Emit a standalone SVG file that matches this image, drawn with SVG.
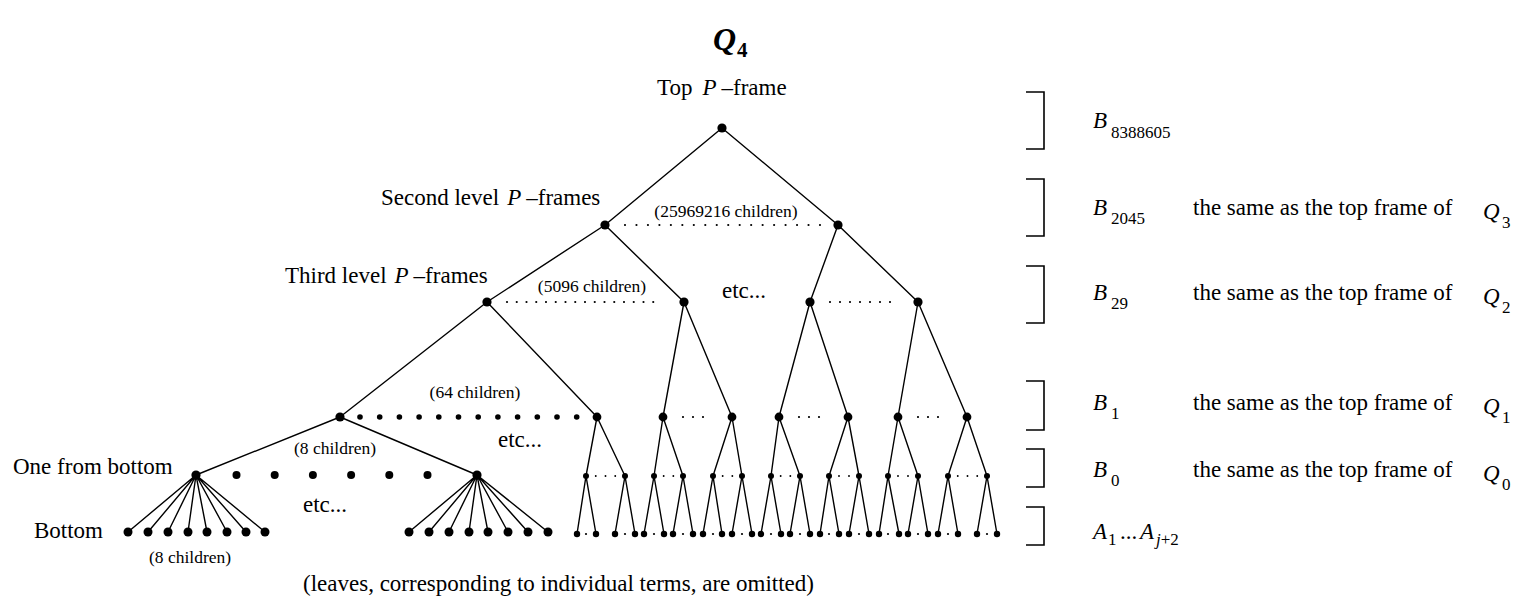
<svg xmlns="http://www.w3.org/2000/svg" width="1519" height="599" viewBox="0 0 1519 599">
  <style>
    text { font-family: "Liberation Serif", "Times New Roman", serif; fill: #000; }
    .lbl { font-size: 23px; }
    .sm { font-size: 17.5px; }
    .sub { font-size: 17px; }
    .it { font-style: italic; }
    .edge { stroke: #000; stroke-width: 1.4; fill: none; }
    .dot { stroke: #000; stroke-width: 2.2; stroke-linecap: round; fill: none; }
    .dotf { stroke: #000; stroke-width: 1.9; stroke-linecap: round; fill: none; }
    .brk { stroke: #000; stroke-width: 1.6; fill: none; }
    .n { fill: #000; }
  </style>

  <!-- title -->
  <text x="713" y="50" font-size="32" font-weight="bold" font-style="italic">Q</text>
  <text x="737" y="57" font-size="21" font-weight="bold">4</text>

  <!-- level labels -->
  <text class="lbl" x="657" y="95">Top<tspan class="it" dx="10">P</tspan><tspan dx="5">–frame</tspan></text>
  <text class="lbl" x="381" y="205">Second level<tspan class="it" dx="8">P</tspan><tspan dx="5">–frames</tspan></text>
  <text class="lbl" x="285" y="283">Third level<tspan class="it" dx="8">P</tspan><tspan dx="5">–frames</tspan></text>
  <text class="lbl" x="13" y="474">One from bottom</text>
  <text class="lbl" x="34" y="538">Bottom</text>

  <!-- child counts and ellipses -->
  <text class="sm" x="726" y="217" text-anchor="middle">(25969216 children)</text>
  <text class="sm" x="592" y="292" text-anchor="middle">(5096 children)</text>
  <text class="sm" x="475" y="398" text-anchor="middle">(64 children)</text>
  <text class="sm" x="335" y="454" text-anchor="middle">(8 children)</text>
  <text class="sm" x="190" y="563" text-anchor="middle">(8 children)</text>
  <text class="lbl" x="722" y="298">etc...</text>
  <text class="lbl" x="498" y="447">etc...</text>
  <text class="lbl" x="303" y="512">etc...</text>
  <text class="lbl" x="303" y="591">(leaves, corresponding to individual terms, are omitted)</text>

  <!-- level brackets -->
  <g id="brackets">
    <path class="brk" d="M1026 92 H1044 V149 H1026"/>
    <path class="brk" d="M1026 179 H1044 V236 H1026"/>
    <path class="brk" d="M1026 266 H1044 V323 H1026"/>
    <path class="brk" d="M1026 381 H1044 V430 H1026"/>
    <path class="brk" d="M1026 449 H1044 V487 H1026"/>
    <path class="brk" d="M1026 507 H1044 V545 H1026"/>
  </g>

  <!-- level legend -->
  <g id="legend">
    <text class="lbl" x="1093" y="128"><tspan class="it">B</tspan></text>
    <text class="sub" x="1111" y="138">8388605</text>

    <text class="lbl" x="1093" y="215"><tspan class="it">B</tspan></text>
    <text class="sub" x="1111" y="224">2045</text>
    <text class="lbl" x="1193" y="215">the same as the top frame of</text>
    <text class="lbl it" x="1483" y="219">Q</text>
    <text class="sub" x="1502" y="228">3</text>

    <text class="lbl" x="1093" y="300"><tspan class="it">B</tspan></text>
    <text class="sub" x="1111" y="309">29</text>
    <text class="lbl" x="1193" y="300">the same as the top frame of</text>
    <text class="lbl it" x="1483" y="304">Q</text>
    <text class="sub" x="1502" y="313">2</text>

    <text class="lbl" x="1093" y="410"><tspan class="it">B</tspan></text>
    <text class="sub" x="1111" y="419">1</text>
    <text class="lbl" x="1193" y="410">the same as the top frame of</text>
    <text class="lbl it" x="1483" y="414">Q</text>
    <text class="sub" x="1502" y="423">1</text>

    <text class="lbl" x="1093" y="477"><tspan class="it">B</tspan></text>
    <text class="sub" x="1111" y="486">0</text>
    <text class="lbl" x="1193" y="477">the same as the top frame of</text>
    <text class="lbl it" x="1483" y="481">Q</text>
    <text class="sub" x="1502" y="490">0</text>

    <text class="lbl it" x="1093" y="539">A</text>
    <text class="sub" x="1108" y="545">1</text>
    <text class="lbl" x="1120" y="539">...</text>
    <text class="lbl it" x="1140" y="539">A</text>
    <text class="sub" x="1156" y="545"><tspan class="it">j</tspan>+2</text>
  </g>

  <!-- tree edges and dotted sibling runs -->
  <g id="connectors">
    <path class="edge" d="M722 128 L605 225 M722 128 L838 225
      M605 225 L487 302 M605 225 L684 302 M838 225 L810 302 M838 225 L918 302
      M487 302 L340 417 M487 302 L597 417 M684 302 L663 417 M684 302 L732 417
      M810 302 L779 417 M810 302 L848 417 M918 302 L898 417 M918 302 L967 417
      M340 417 L196 475 M340 417 L477 475
      M597 417 L586 476 M597 417 L625 476 M663 417 L654 476 M663 417 L683 476
      M732 417 L713 476 M732 417 L742 476 M779 417 L771 476 M779 417 L800 476
      M848 417 L829 476 M848 417 L859 476 M898 417 L888 476 M898 417 L918 476
      M967 417 L948 476 M967 417 L987 476
      M196 475 L128 532 M196 475 L148 532 M196 475 L168 532 M196 475 L188 532
      M196 475 L207 532 M196 475 L227 532 M196 475 L246 532 M196 475 L265 532
      M477 475 L409 532 M477 475 L429 532 M477 475 L449 532 M477 475 L469 532
      M477 475 L488 532 M477 475 L508 532 M477 475 L528 532 M477 475 L548 532
      M586 476 L577 534 M586 476 L596 534 M625 476 L615 534 M625 476 L635 534
      M654 476 L644 534 M654 476 L664 534 M683 476 L673 534 M683 476 L693 534
      M713 476 L703 534 M713 476 L722 534 M742 476 L732 534 M742 476 L752 534
      M771 476 L761 534 M771 476 L781 534 M800 476 L790 534 M800 476 L810 534
      M829 476 L820 534 M829 476 L839 534 M859 476 L849 534 M859 476 L869 534
      M888 476 L879 534 M888 476 L899 534 M918 476 L908 534 M918 476 L928 534
      M948 476 L938 534 M948 476 L958 534 M987 476 L977 534 M987 476 L997 534"/>

    <line class="dot" x1="625" y1="225" x2="820" y2="225" stroke-dasharray="0 11.47"/>
    <line class="dot" x1="507" y1="302" x2="663" y2="302" stroke-dasharray="0 9.75"/>
    <line class="dot" x1="830" y1="302" x2="900" y2="302" stroke-dasharray="0 10"/>
    <line class="dot" x1="683" y1="417" x2="713" y2="417" stroke-dasharray="0 10"/>
    <line class="dot" x1="799" y1="417" x2="829" y2="417" stroke-dasharray="0 10"/>
    <line class="dot" x1="918" y1="417" x2="948" y2="417" stroke-dasharray="0 10"/>
    <g class="dotf">
      <line x1="586" y1="476" x2="625" y2="476" stroke-dasharray="0 9.75"/>
      <line x1="654" y1="476" x2="683" y2="476" stroke-dasharray="0 9.67"/>
      <line x1="713" y1="476" x2="742" y2="476" stroke-dasharray="0 9.67"/>
      <line x1="771" y1="476" x2="800" y2="476" stroke-dasharray="0 9.67"/>
      <line x1="829" y1="476" x2="859" y2="476" stroke-dasharray="0 10"/>
      <line x1="888" y1="476" x2="918" y2="476" stroke-dasharray="0 10"/>
      <line x1="948" y1="476" x2="987" y2="476" stroke-dasharray="0 9.75"/>
    </g>
    <!-- single dots between paired leaves -->
    <g class="n">
      <circle cx="586" cy="534" r="1.1"/><circle cx="625" cy="534" r="1.1"/>
      <circle cx="654" cy="534" r="1.1"/><circle cx="683" cy="534" r="1.1"/>
      <circle cx="713" cy="534" r="1.1"/><circle cx="742" cy="534" r="1.1"/>
      <circle cx="771" cy="534" r="1.1"/><circle cx="800" cy="534" r="1.1"/>
      <circle cx="829" cy="534" r="1.1"/><circle cx="859" cy="534" r="1.1"/>
      <circle cx="888" cy="534" r="1.1"/><circle cx="918" cy="534" r="1.1"/>
      <circle cx="948" cy="534" r="1.1"/><circle cx="987" cy="534" r="1.1"/>
    </g>
    <!-- heavy dots standing for omitted siblings -->
    <g class="n">
      <circle cx="360" cy="417" r="2.8"/><circle cx="379.7" cy="417" r="2.8"/>
      <circle cx="399.4" cy="417" r="2.8"/><circle cx="419.1" cy="417" r="2.8"/>
      <circle cx="438.8" cy="417" r="2.8"/><circle cx="458.5" cy="417" r="2.8"/>
      <circle cx="478.2" cy="417" r="2.8"/><circle cx="497.9" cy="417" r="2.8"/>
      <circle cx="517.6" cy="417" r="2.8"/><circle cx="537.3" cy="417" r="2.8"/>
      <circle cx="557" cy="417" r="2.8"/><circle cx="576.7" cy="417" r="2.8"/>
      <circle cx="236.5" cy="475" r="4"/><circle cx="274.7" cy="475" r="4"/>
      <circle cx="312.9" cy="475" r="4"/><circle cx="351.1" cy="475" r="4"/>
      <circle cx="389.3" cy="475" r="4"/><circle cx="427.5" cy="475" r="4"/>
    </g>
  </g>

  <!-- P-frame nodes -->
  <g class="n">
    <g id="top"><circle cx="722" cy="128" r="4.6"/></g>
    <g id="l2-a"><circle cx="605" cy="225" r="4.6"/></g>
    <g id="l2-b"><circle cx="838" cy="225" r="4.6"/></g>
    <g id="l3-a"><circle cx="487" cy="302" r="4.6"/></g>
    <g id="l3-b"><circle cx="684" cy="302" r="4.6"/></g>
    <g id="l3-c"><circle cx="810" cy="302" r="4.6"/></g>
    <g id="l3-d"><circle cx="918" cy="302" r="4.6"/></g>
    <g id="l4-a"><circle cx="340" cy="417" r="4.6"/></g>
    <g id="l4-b"><circle cx="597" cy="417" r="4.4"/></g>
    <g id="l4-c"><circle cx="663" cy="417" r="4.4"/></g>
    <g id="l4-d"><circle cx="732" cy="417" r="4.4"/></g>
    <g id="l4-e"><circle cx="779" cy="417" r="4.4"/></g>
    <g id="l4-f"><circle cx="848" cy="417" r="4.4"/></g>
    <g id="l4-g"><circle cx="898" cy="417" r="4.4"/></g>
    <g id="l4-h"><circle cx="967" cy="417" r="4.4"/></g>
    <g id="l5-a"><circle cx="196" cy="475" r="4.6"/></g>
    <g id="l5-b"><circle cx="477" cy="475" r="4.6"/></g>
    <g id="l5-r1"><circle cx="586" cy="476" r="3"/></g>
    <g id="l5-r2"><circle cx="625" cy="476" r="3"/></g>
    <g id="l5-r3"><circle cx="654" cy="476" r="3"/></g>
    <g id="l5-r4"><circle cx="683" cy="476" r="3"/></g>
    <g id="l5-r5"><circle cx="713" cy="476" r="3"/></g>
    <g id="l5-r6"><circle cx="742" cy="476" r="3"/></g>
    <g id="l5-r7"><circle cx="771" cy="476" r="3"/></g>
    <g id="l5-r8"><circle cx="800" cy="476" r="3"/></g>
    <g id="l5-r9"><circle cx="829" cy="476" r="3"/></g>
    <g id="l5-r10"><circle cx="859" cy="476" r="3"/></g>
    <g id="l5-r11"><circle cx="888" cy="476" r="3"/></g>
    <g id="l5-r12"><circle cx="918" cy="476" r="3"/></g>
    <g id="l5-r13"><circle cx="948" cy="476" r="3"/></g>
    <g id="l5-r14"><circle cx="987" cy="476" r="3"/></g>
  </g>

  <!-- bottom frames -->
  <g class="n">
    <g id="b-a1"><circle cx="128" cy="532" r="4.5"/></g>
    <g id="b-a2"><circle cx="148" cy="532" r="4.5"/></g>
    <g id="b-a3"><circle cx="168" cy="532" r="4.5"/></g>
    <g id="b-a4"><circle cx="188" cy="532" r="4.5"/></g>
    <g id="b-a5"><circle cx="207" cy="532" r="4.5"/></g>
    <g id="b-a6"><circle cx="227" cy="532" r="4.5"/></g>
    <g id="b-a7"><circle cx="246" cy="532" r="4.5"/></g>
    <g id="b-a8"><circle cx="265" cy="532" r="4.5"/></g>
    <g id="b-b1"><circle cx="409" cy="532" r="4.5"/></g>
    <g id="b-b2"><circle cx="429" cy="532" r="4.5"/></g>
    <g id="b-b3"><circle cx="449" cy="532" r="4.5"/></g>
    <g id="b-b4"><circle cx="469" cy="532" r="4.5"/></g>
    <g id="b-b5"><circle cx="488" cy="532" r="4.5"/></g>
    <g id="b-b6"><circle cx="508" cy="532" r="4.5"/></g>
    <g id="b-b7"><circle cx="528" cy="532" r="4.5"/></g>
    <g id="b-b8"><circle cx="548" cy="532" r="4.5"/></g>
    <g id="b-r1"><circle cx="577" cy="534" r="3.2"/></g>
    <g id="b-r2"><circle cx="596" cy="534" r="3.2"/></g>
    <g id="b-r3"><circle cx="615" cy="534" r="3.2"/></g>
    <g id="b-r4"><circle cx="635" cy="534" r="3.2"/></g>
    <g id="b-r5"><circle cx="644" cy="534" r="3.2"/></g>
    <g id="b-r6"><circle cx="664" cy="534" r="3.2"/></g>
    <g id="b-r7"><circle cx="673" cy="534" r="3.2"/></g>
    <g id="b-r8"><circle cx="693" cy="534" r="3.2"/></g>
    <g id="b-r9"><circle cx="703" cy="534" r="3.2"/></g>
    <g id="b-r10"><circle cx="722" cy="534" r="3.2"/></g>
    <g id="b-r11"><circle cx="732" cy="534" r="3.2"/></g>
    <g id="b-r12"><circle cx="752" cy="534" r="3.2"/></g>
    <g id="b-r13"><circle cx="761" cy="534" r="3.2"/></g>
    <g id="b-r14"><circle cx="781" cy="534" r="3.2"/></g>
    <g id="b-r15"><circle cx="790" cy="534" r="3.2"/></g>
    <g id="b-r16"><circle cx="810" cy="534" r="3.2"/></g>
    <g id="b-r17"><circle cx="820" cy="534" r="3.2"/></g>
    <g id="b-r18"><circle cx="839" cy="534" r="3.2"/></g>
    <g id="b-r19"><circle cx="849" cy="534" r="3.2"/></g>
    <g id="b-r20"><circle cx="869" cy="534" r="3.2"/></g>
    <g id="b-r21"><circle cx="879" cy="534" r="3.2"/></g>
    <g id="b-r22"><circle cx="899" cy="534" r="3.2"/></g>
    <g id="b-r23"><circle cx="908" cy="534" r="3.2"/></g>
    <g id="b-r24"><circle cx="928" cy="534" r="3.2"/></g>
    <g id="b-r25"><circle cx="938" cy="534" r="3.2"/></g>
    <g id="b-r26"><circle cx="958" cy="534" r="3.2"/></g>
    <g id="b-r27"><circle cx="977" cy="534" r="3.2"/></g>
    <g id="b-r28"><circle cx="997" cy="534" r="3.2"/></g>
  </g>
</svg>
